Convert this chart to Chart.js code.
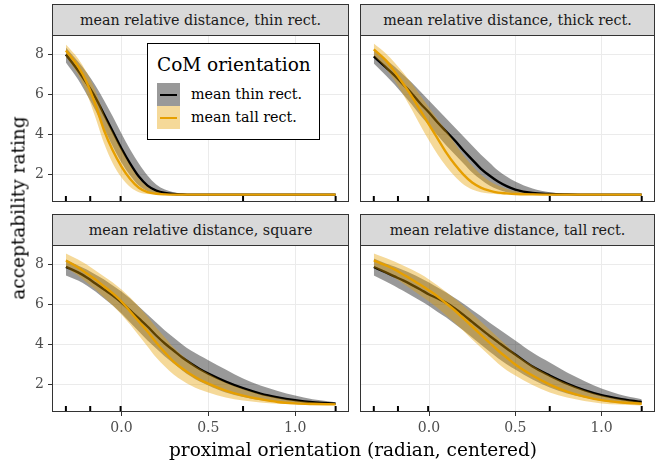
<!DOCTYPE html>
<html lang="en">
<head>
<meta charset="UTF-8">
<title>Acceptability rating by proximal orientation</title>
<script src="https://cdn.jsdelivr.net/npm/chart.js"></script>
<style>
  body { margin: 0; width: 656px; height: 465px; position: relative; overflow: hidden; background: #fff; font-family: 'DejaVu Serif', serif; }
  canvas { position: absolute; }
  .strip { position: absolute; box-sizing: border-box; height: 32px; background: #d9d9d9; border: 1px solid #333; color: #1a1a1a; font-size: 14.3px; line-height: 30px; text-align: center; white-space: nowrap; }
  .axis-title { position: absolute; font-size: 18.5px; color: #000; white-space: nowrap; transform: translate(-50%, -50%); }
  #legend { position: absolute; left: 147px; top: 43px; width: 173px; height: 97px; box-sizing: border-box; border: 1px solid #000; background: #fff; z-index: 5; }
  #legend .title { position: absolute; left: 9px; top: 11px; font-size: 18.5px; line-height: 20px; white-space: nowrap; }
  #legend .key { position: absolute; left: 9px; width: 23px; height: 23px; }
  #legend .key i { position: absolute; left: 3px; right: 3px; top: 10.5px; height: 2px; }
  #legend .label { position: absolute; left: 43px; height: 23px; line-height: 23px; font-size: 14.3px; white-space: nowrap; }
</style>
</head>
<body>
<canvas id="pThin" width="350" height="172" style="left:0;top:33px"></canvas>
<canvas id="pThick" width="297" height="172" style="left:359px;top:33px"></canvas>
<canvas id="pSquare" width="350" height="197" style="left:0;top:243px"></canvas>
<canvas id="pTall" width="297" height="197" style="left:359px;top:243px"></canvas>

<div class="strip" style="left:52px;top:4px;width:297px">mean relative distance, thin rect.</div>
<div class="strip" style="left:360px;top:4px;width:295px">mean relative distance, thick rect.</div>
<div class="strip" style="left:52px;top:214px;width:297px">mean relative distance, square</div>
<div class="strip" style="left:360px;top:214px;width:295px">mean relative distance, tall rect.</div>

<div id="legend">
  <div class="title">CoM orientation</div>
  <div class="key" style="top:39px;background:#999999"><i style="background:#000"></i></div>
  <div class="label" style="top:39px">mean thin rect.</div>
  <div class="key" style="top:62px;background:#f5d999"><i style="background:#e69f00"></i></div>
  <div class="label" style="top:62px">mean tall rect.</div>
</div>

<div class="axis-title" style="left:18px;top:208px;transform:translate(-50%,-50%) rotate(-90deg)">acceptability rating</div>
<div class="axis-title" style="left:353px;top:449px">proximal orientation (radian, centered)</div>

<script>
const xs = [-0.32, -0.25, -0.2, -0.15, -0.1, -0.05, 0, 0.05, 0.1, 0.15, 0.2, 0.25, 0.3, 0.35, 0.4, 0.45, 0.5, 0.6, 0.7, 0.8, 0.9, 1.0, 1.1, 1.233];
const rugX = [-0.32, -0.18, -0.005, 0.70, 1.233];
const xTicks = [0, 0.5, 1];
const yTicks = [2, 4, 6, 8];

// panel: thin rect.
const thinRect_thinFit = [8.0, 7.2, 6.55, 5.85, 5.0, 4.15, 3.3, 2.55, 1.9, 1.45, 1.2, 1.08, 1.03, 1.01, 1.0, 1.0, 1.0, 1.0, 1.0, 1.0, 1.0, 1.0, 1.0, 1.0];
const thinRect_thinHi = [8.35, 7.65, 7.1, 6.45, 5.7, 4.9, 4.05, 3.25, 2.55, 1.95, 1.5, 1.25, 1.12, 1.05, 1.02, 1.015, 1.01, 1.01, 1.01, 1.01, 1.01, 1.01, 1.01, 1.01];
const thinRect_thinLo = [7.6, 6.75, 6.0, 5.2, 4.3, 3.4, 2.6, 1.95, 1.45, 1.17, 1.06, 1.02, 1.005, 0.995, 0.99, 0.99, 0.99, 0.99, 0.99, 0.99, 0.99, 0.99, 0.99, 0.99];
const thinRect_tallFit = [8.2, 7.4, 6.6, 5.5, 4.2, 3.2, 2.4, 1.78, 1.34, 1.12, 1.04, 1.01, 1.0, 1.0, 1.0, 1.0, 1.0, 1.0, 1.0, 1.0, 1.0, 1.0, 1.0, 1.0];
const thinRect_tallHi = [8.5, 7.8, 7.1, 6.2, 5.0, 4.1, 3.25, 2.45, 1.8, 1.38, 1.15, 1.05, 1.02, 1.005, 1.005, 1.005, 1.005, 1.005, 1.005, 1.005, 1.005, 1.005, 1.005, 1.005];
const thinRect_tallLo = [7.9, 7.0, 6.05, 4.85, 3.55, 2.55, 1.85, 1.38, 1.12, 1.03, 1.005, 0.995, 0.995, 0.995, 0.995, 0.995, 0.995, 0.995, 0.995, 0.995, 0.995, 0.995, 0.995, 0.995];

// panel: thick rect.
const thickRect_thinFit = [7.9, 7.35, 6.95, 6.5, 6.05, 5.55, 5.1, 4.6, 4.15, 3.7, 3.2, 2.75, 2.3, 1.95, 1.65, 1.42, 1.25, 1.08, 1.03, 1.01, 1.0, 1.0, 1.0, 1.0];
const thickRect_thinHi = [8.25, 7.75, 7.4, 7.0, 6.6, 6.15, 5.7, 5.25, 4.8, 4.35, 3.9, 3.45, 3.0, 2.6, 2.2, 1.9, 1.65, 1.3, 1.12, 1.05, 1.02, 1.01, 1.01, 1.01];
const thickRect_thinLo = [7.55, 6.95, 6.5, 6.0, 5.5, 4.95, 4.45, 3.95, 3.45, 3.0, 2.55, 2.1, 1.75, 1.45, 1.25, 1.12, 1.05, 1.01, 0.995, 0.99, 0.99, 0.99, 0.99, 0.99];
const thickRect_tallFit = [8.25, 7.7, 7.15, 6.55, 5.9, 5.2, 4.5, 3.8, 3.1, 2.5, 2.0, 1.6, 1.35, 1.2, 1.1, 1.06, 1.03, 1.01, 1.0, 1.0, 1.0, 1.0, 1.0, 1.0];
const thickRect_tallHi = [8.55, 8.05, 7.6, 7.1, 6.55, 5.95, 5.35, 4.75, 4.2, 3.55, 2.95, 2.45, 2.0, 1.68, 1.45, 1.28, 1.17, 1.05, 1.01, 1.0, 1.0, 1.0, 1.0, 1.0];
const thickRect_tallLo = [7.95, 7.3, 6.7, 6.0, 5.25, 4.45, 3.7, 3.0, 2.4, 1.9, 1.5, 1.25, 1.12, 1.05, 1.02, 1.01, 1.0, 0.995, 0.995, 0.995, 0.995, 0.995, 0.995, 0.995];

// panel: square
const square_thinFit = [7.88, 7.6, 7.35, 7.05, 6.75, 6.45, 6.1, 5.7, 5.3, 4.9, 4.45, 4.05, 3.7, 3.35, 3.05, 2.78, 2.55, 2.15, 1.82, 1.55, 1.36, 1.22, 1.12, 1.05];
const square_thinHi = [8.25, 7.95, 7.75, 7.5, 7.25, 6.95, 6.65, 6.3, 5.9, 5.5, 5.1, 4.7, 4.35, 4.0, 3.7, 3.45, 3.22, 2.75, 2.3, 1.95, 1.68, 1.45, 1.27, 1.12];
const square_thinLo = [7.45, 7.2, 6.95, 6.65, 6.3, 5.95, 5.55, 5.1, 4.65, 4.2, 3.8, 3.4, 3.05, 2.7, 2.4, 2.15, 1.95, 1.6, 1.38, 1.22, 1.13, 1.07, 1.03, 0.98];
const square_tallFit = [8.2, 7.85, 7.55, 7.25, 6.9, 6.55, 6.15, 5.65, 5.15, 4.65, 4.1, 3.6, 3.15, 2.8, 2.5, 2.25, 2.05, 1.7, 1.45, 1.27, 1.13, 1.06, 1.03, 1.01];
const square_tallHi = [8.55, 8.25, 8.0, 7.7, 7.4, 7.1, 6.75, 6.35, 5.9, 5.4, 4.85, 4.35, 3.85, 3.45, 3.1, 2.8, 2.55, 2.1, 1.78, 1.52, 1.33, 1.2, 1.12, 1.06];
const square_tallLo = [7.85, 7.45, 7.1, 6.75, 6.35, 5.95, 5.5, 5.0, 4.45, 3.9, 3.35, 2.9, 2.5, 2.2, 1.95, 1.75, 1.6, 1.35, 1.2, 1.1, 1.04, 1.01, 0.99, 0.98];

// panel: tall rect.
const tallRect_thinFit = [7.87, 7.6, 7.4, 7.2, 6.98, 6.75, 6.5, 6.3, 6.08, 5.8, 5.48, 5.13, 4.78, 4.44, 4.12, 3.8, 3.5, 2.9, 2.45, 2.05, 1.72, 1.47, 1.3, 1.13];
const tallRect_thinHi = [8.3, 8.05, 7.9, 7.72, 7.53, 7.32, 7.1, 6.85, 6.6, 6.32, 6.03, 5.72, 5.42, 5.1, 4.8, 4.5, 4.2, 3.6, 3.1, 2.6, 2.18, 1.8, 1.52, 1.27];
const tallRect_thinLo = [7.45, 7.15, 6.92, 6.68, 6.43, 6.18, 5.92, 5.63, 5.35, 5.03, 4.7, 4.35, 4.0, 3.65, 3.32, 3.02, 2.75, 2.25, 1.85, 1.55, 1.35, 1.18, 1.08, 1.0];
const tallRect_tallFit = [8.2, 7.95, 7.75, 7.5, 7.25, 6.98, 6.7, 6.4, 6.05, 5.7, 5.3, 4.9, 4.5, 4.1, 3.7, 3.35, 3.0, 2.45, 2.0, 1.65, 1.4, 1.22, 1.12, 1.04];
const tallRect_tallHi = [8.55, 8.32, 8.15, 7.95, 7.75, 7.52, 7.25, 6.95, 6.62, 6.28, 5.92, 5.55, 5.15, 4.75, 4.35, 3.95, 3.55, 2.95, 2.45, 2.05, 1.72, 1.45, 1.28, 1.12];
const tallRect_tallLo = [7.85, 7.55, 7.33, 7.05, 6.75, 6.45, 6.15, 5.82, 5.45, 5.08, 4.68, 4.25, 3.85, 3.45, 3.05, 2.72, 2.45, 1.98, 1.6, 1.35, 1.18, 1.06, 1.0, 0.96];

const Y_MIN = 0.63, Y_MAX = 8.97;
const X_MIN = -0.40, X_MAX = 1.31;

// panel frame like ggplot's theme_bw
const panelBorder = {
    id: 'panelBorder',
    afterDraw(chart) {
        const a = chart.chartArea, ctx = chart.ctx;
        ctx.save();
        ctx.strokeStyle = '#333333';
        ctx.lineWidth = 1;
        ctx.strokeRect(Math.round(a.left) + 0.5, Math.round(a.top) + 0.5,
            Math.round(a.right - a.left) - 1, Math.round(a.bottom - a.top) - 1);
        ctx.restore();
    }
};

function pts(ys) {
    return xs.map((x, i) => ({ x: x, y: ys[i] }));
}

function makePanel(id, s, showX, showY) {
    const band = { borderColor: 'rgba(0,0,0,0)', borderWidth: 1, pointRadius: 0, cubicInterpolationMode: 'monotone' };
    const tickFont = { family: 'DejaVu Serif', size: 14 };
    new Chart(document.getElementById(id), {
        type: 'line',
        data: {
            datasets: [
                Object.assign({ data: pts(s.thinHi), fill: false, order: 3 }, band),
                Object.assign({ data: pts(s.thinLo), fill: 0, backgroundColor: 'rgba(0,0,0,0.4)', order: 3 }, band),
                { data: pts(s.thinFit), borderColor: '#000000', borderWidth: 2.4, pointRadius: 0, fill: false, cubicInterpolationMode: 'monotone', order: 2 },
                Object.assign({ data: pts(s.tallHi), fill: false, order: 1 }, band),
                Object.assign({ data: pts(s.tallLo), fill: 3, backgroundColor: 'rgba(230,159,0,0.4)', order: 1 }, band),
                { data: pts(s.tallFit), borderColor: '#E69F00', borderWidth: 2.4, pointRadius: 0, fill: false, cubicInterpolationMode: 'monotone', order: 0 },
                { type: 'scatter', data: rugX.map(x => ({ x: x, y: Y_MIN + 0.15 })), pointStyle: 'line', rotation: 90,
                  pointRadius: 3, pointHoverRadius: 3, borderColor: '#000000', borderWidth: 2, order: -1 }
            ]
        },
        options: {
            responsive: false,
            animation: false,
            events: [],
            layout: { autoPadding: false, padding: { top: 2, right: 1, left: 0, bottom: 0 } },
            plugins: { legend: { display: false }, tooltip: { enabled: false } },
            scales: {
                x: {
                    type: 'linear', min: X_MIN, max: X_MAX,
                    afterBuildTicks: sc => { sc.ticks = xTicks.map(v => ({ value: v })); },
                    afterFit: sc => { sc.height = showX ? 28 : 3; },
                    border: { display: false },
                    grid: { color: '#ebebeb', lineWidth: 1, drawTicks: showX, tickLength: 4, tickColor: '#333333' },
                    ticks: { display: showX, color: '#4d4d4d', font: tickFont, padding: 4, maxRotation: 0, autoSkip: false,
                             callback: v => v.toFixed(1) }
                },
                y: {
                    min: Y_MIN, max: Y_MAX,
                    afterBuildTicks: sc => { sc.ticks = yTicks.map(v => ({ value: v })); },
                    afterFit: sc => { sc.width = showY ? 52 : 1; sc.paddingTop = 0; sc.paddingBottom = 0; },
                    border: { display: false },
                    grid: { color: '#ebebeb', lineWidth: 1, drawTicks: showY, tickLength: 4, tickColor: '#333333' },
                    ticks: { display: showY, color: '#4d4d4d', font: tickFont, padding: 4, callback: v => String(v) }
                }
            }
        },
        plugins: [panelBorder]
    });
}

makePanel('pThin', { thinFit: thinRect_thinFit, thinHi: thinRect_thinHi, thinLo: thinRect_thinLo,
    tallFit: thinRect_tallFit, tallHi: thinRect_tallHi, tallLo: thinRect_tallLo }, false, true);
makePanel('pThick', { thinFit: thickRect_thinFit, thinHi: thickRect_thinHi, thinLo: thickRect_thinLo,
    tallFit: thickRect_tallFit, tallHi: thickRect_tallHi, tallLo: thickRect_tallLo }, false, false);
makePanel('pSquare', { thinFit: square_thinFit, thinHi: square_thinHi, thinLo: square_thinLo,
    tallFit: square_tallFit, tallHi: square_tallHi, tallLo: square_tallLo }, true, true);
makePanel('pTall', { thinFit: tallRect_thinFit, thinHi: tallRect_thinHi, thinLo: tallRect_thinLo,
    tallFit: tallRect_tallFit, tallHi: tallRect_tallHi, tallLo: tallRect_tallLo }, true, false);
</script>
</body>
</html>
